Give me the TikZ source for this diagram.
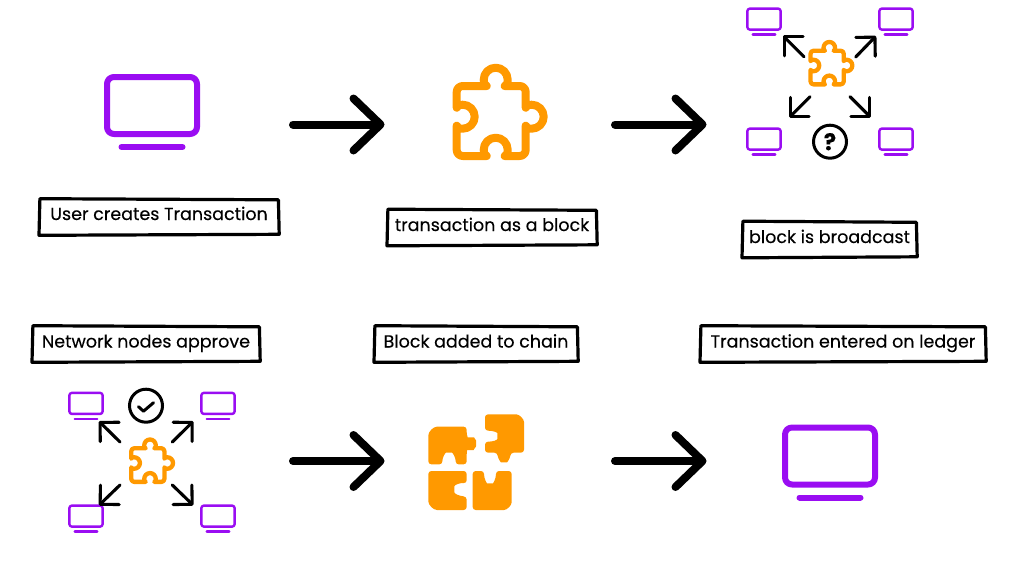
\documentclass[tikz,border=0pt]{standalone}
\usepackage{fontspec}
\setmainfont[FakeBold=0.2]{Poppins}
\usetikzlibrary{arrows.meta}
\definecolor{violetc}{HTML}{9A0DF2}
\definecolor{orangec}{HTML}{FF9900}
\tikzset{
  labelbox/.style={fill=white,minimum height=35pt,inner sep=0pt,text height=13pt,text depth=4pt,font=\fontsize{17.5pt}{20pt}\selectfont,text=black},
  boxline/.style={draw=black,line width=3.2pt,line join=round,line cap=round},
  bigarrow/.style={line width=8pt,line cap=round,-{Straight Barb[length=27pt,width=52pt,round]}},
  smallarrow/.style={line width=3.1pt,line cap=round,-{Straight Barb[length=13.5pt,width=27pt,round]}},
  ring/.style={circle,draw=black,line width=3pt,minimum size=33pt,inner sep=0pt},
  monitorline/.style={draw=violetc,line cap=round,line join=round},
  puzzleline/.style={draw=orangec,line cap=round,line join=round},
  puzzlefill/.style={fill=orangec,draw=none}
}
\newcommand{\sketchbox}[1]{%
  \draw[boxline] ([shift={(0.6,-0.6)}]#1.north west) -- ([shift={(-0.3,0.5)}]#1.north east)
     -- ([shift={(0.5,-0.4)}]#1.south east) -- ([shift={(-0.3,0.6)}]#1.south west) -- cycle;}
\newcommand{\monitoricon}[4]{% x y scale linewidth
  \begin{scope}[shift={(#1,#2)},scale=#3]
    \path[monitorline,line width=#4pt,rounded corners=#3*7pt] (-45,-35) rectangle (45,22);
    \path[monitorline,line width=#4pt] (-30.5,35) -- (30.5,35);
  \end{scope}}
\newcommand{\puzzleicon}[4]{% x y scale linewidth
  \begin{scope}[shift={(#1,#2)},scale=#3]
    \path[puzzleline,line width=#4pt]
      (-33,-30.7) -- (-9,-30.7)
      .. controls (-12,-32) and (-12,-34) .. (-12,-37)
      .. controls (-12,-43.6) and (-6.6,-49) .. (0,-49)
      .. controls (6.6,-49) and (12,-43.6) .. (12,-37)
      .. controls (12,-34) and (12,-32) .. (9,-30.7)
      -- (24,-30.7) .. controls (27.3,-30.7) and (30,-28) .. (30,-24.7)
      -- (30,-9)
      .. controls (31,-12) and (33,-12) .. (36,-12)
      .. controls (42.6,-12) and (48,-6.6) .. (48,0)
      .. controls (48,6.6) and (42.6,12) .. (36,12)
      .. controls (33,12) and (31,12) .. (30,9)
      -- (30,33.3) .. controls (30,36.6) and (27.3,39.3) .. (24,39.3)
      -- (9,39.3)
      .. controls (12,38) and (12,36) .. (12,33)
      .. controls (12,26.4) and (6.6,21) .. (0,21)
      .. controls (-6.6,21) and (-12,26.4) .. (-12,33)
      .. controls (-12,36) and (-12,38) .. (-9,39.3)
      -- (-33,39.3) .. controls (-36.3,39.3) and (-39,36.6) .. (-39,33.3)
      -- (-39,9)
      .. controls (-38,12) and (-36,12) .. (-33,12)
      .. controls (-26.4,12) and (-21,6.6) .. (-21,0)
      .. controls (-21,-6.6) and (-26.4,-12) .. (-33,-12)
      .. controls (-36,-12) and (-38,-12) .. (-39,-9)
      -- (-39,-24.7) .. controls (-39,-28) and (-36.3,-30.7) .. (-33,-30.7) -- cycle;
  \end{scope}}
\begin{document}
\begin{tikzpicture}[x=1pt,y=-1pt]
\useasboundingbox (0,0) rectangle (1009,568);
% row 1
\monitoricon{152}{112}{1}{6}
\puzzleicon{495.7}{116.7}{1}{8}
\coordinate (a1s) at (293,124.5); \coordinate (a1e) at (384.5,124.5);
\coordinate (a2s) at (615,124.5); \coordinate (a2e) at (706.5,124.5);
\draw[bigarrow] (a1s) -- (a1e);
\draw[bigarrow] (a2s) -- (a2e);
% broadcast group
\monitoricon{764}{21.5}{0.37}{2.4}
\monitoricon{896}{21.5}{0.37}{2.4}
\monitoricon{764}{141.5}{0.37}{2.4}
\monitoricon{896}{141.5}{0.37}{2.4}
\puzzleicon{829.3}{65.5}{0.48}{4.3}
\coordinate (b1s) at (804,56.7); \coordinate (b1e) at (783,35.7);
\coordinate (b2s) at (855.7,57); \coordinate (b2e) at (876,36);
\coordinate (b3s) at (810,96.7); \coordinate (b3e) at (789,117.7);
\coordinate (b4s) at (850,96.7); \coordinate (b4e) at (871,117.7);
\draw[smallarrow] (b1s) -- (b1e);
\draw[smallarrow] (b2s) -- (b2e);
\draw[smallarrow] (b3s) -- (b3e);
\draw[smallarrow] (b4s) -- (b4e);
\node[ring] (q) at (830,141.7) {\fontsize{23pt}{23pt}\selectfont\bfseries ?};
% labels
\node[labelbox,minimum width=239pt] (l1) at (159,217) {\raisebox{1.5pt}{User creates Transaction}};
\sketchbox{l1}
\node[labelbox,minimum width=209pt] (l2) at (492,227.5) {\raisebox{1pt}{transaction as a block}};
\sketchbox{l2}
\node[labelbox,minimum width=174pt] (l3) at (829.5,239.5) {\raisebox{1pt}{block is broadcast}};
\sketchbox{l3}
\node[labelbox,minimum width=227pt] (l4) at (146,344) {\raisebox{1pt}{Network nodes approve}};
\sketchbox{l4}
\node[labelbox,minimum width=203pt] (l5) at (476,344) {\raisebox{1pt}{Block added to chain}};
\sketchbox{l5}
\node[labelbox,minimum width=285pt] (l6) at (843,344) {\raisebox{1pt}{Transaction entered on ledger}};
\sketchbox{l6}
% approve group
\monitoricon{86}{405.8}{0.37}{2.4}
\monitoricon{218}{405.8}{0.37}{2.4}
\monitoricon{86}{518.5}{0.37}{2.4}
\monitoricon{218}{518.5}{0.37}{2.4}
\puzzleicon{150}{463}{0.48}{4.3}
\coordinate (c1s) at (120,442); \coordinate (c1e) at (99,421.3);
\coordinate (c2s) at (172.3,442); \coordinate (c2e) at (193.3,421.3);
\coordinate (c3s) at (120,485); \coordinate (c3e) at (99,505.3);
\coordinate (c4s) at (172.3,485); \coordinate (c4e) at (193.3,505.3);
\draw[smallarrow] (c1s) -- (c1e);
\draw[smallarrow] (c2s) -- (c2e);
\draw[smallarrow] (c3s) -- (c3e);
\draw[smallarrow] (c4s) -- (c4e);
\node[ring] (k) at (146,405.7) {};
\draw[line width=3pt,line cap=round,line join=round] ([shift={(-7.5,1)}]k.center) -- ([shift={(-2.5,5.5)}]k.center) -- ([shift={(7.5,-3)}]k.center);
% row 2
\coordinate (a3s) at (293,461); \coordinate (a3e) at (384.5,461);
\coordinate (a4s) at (615,461); \coordinate (a4e) at (706.5,461);
\draw[bigarrow] (a3s) -- (a3e);
\draw[bigarrow] (a4s) -- (a4e);
\monitoricon{830}{462.5}{1}{6}
% four pieces
\begin{scope}[shift={(410,400)},scale=1/3]
  \fill[puzzlefill,rounded corners=3pt] (55,213) -- (170,213) -- (170,250)
    .. controls (150,248) and (133,255) .. (133,268)
    .. controls (133,282) and (150,288) .. (170,290)
    -- (170,330) -- (90,330) .. controls (70,330) and (55,315) .. (55,295) -- cycle;
  \fill[puzzlefill,rounded corners=3pt] (55,193) -- (55,115)
    .. controls (55,95) and (70,80) .. (90,80) -- (170,80) -- (170,105)
    .. controls (173,112) and (180,112) .. (183,112)
    .. controls (192,112) and (198,122) .. (198,130)
    .. controls (198,140) and (190,150) .. (182,150)
    .. controls (176,150) and (171,152) .. (170,157)
    -- (170,193) -- (137,193)
    .. controls (137,172) and (128,158) .. (117,158)
    .. controls (106,158) and (97,172) .. (97,193) -- cycle;
  \fill[puzzlefill,rounded corners=3pt] (225,43) -- (310,43)
    .. controls (328,43) and (342,57) .. (342,75) -- (342,158) -- (302,158)
    .. controls (300,175) and (292,187) .. (282,187)
    .. controls (272,187) and (264,175) .. (262,158)
    -- (225,158) -- (225,125)
    .. controls (250,125) and (262,120) .. (262,108)
    .. controls (262,98) and (250,92) .. (225,92) -- cycle;
  \fill[puzzlefill,rounded corners=3pt] (188,213) -- (222,213)
    .. controls (222,235) and (230,250) .. (240,250)
    .. controls (250,250) and (258,235) .. (258,213)
    -- (305,213) -- (305,298) .. controls (305,316) and (291,330) .. (273,330)
    -- (188,330) -- cycle;
\end{scope}
\end{tikzpicture}
\end{document}
